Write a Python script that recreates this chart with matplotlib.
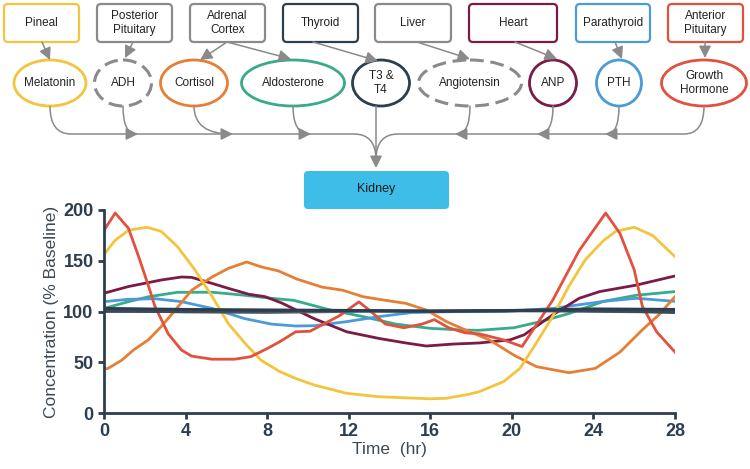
import matplotlib
matplotlib.use("Agg")
import matplotlib.pyplot as plt
from matplotlib.patches import FancyBboxPatch, Ellipse, FancyArrowPatch, PathPatch
from matplotlib.path import Path

plt.rcParams['font.family'] = ['Liberation Sans', 'DejaVu Sans']

# ---- hormone profiles (% of baseline) ----
gh_t = [0, 0.55, 1.2, 1.7, 2.2, 2.5, 3.15, 3.8, 4.3, 5.3, 6.4, 7.2, 8.05, 8.6, 9.4, 10.1,
        11.56, 12.5, 13.0, 13.8, 14.7, 15.6, 16.2, 16.9, 17.7, 18.4, 19.6, 20.5, 22.0,
        23.3, 24.6, 25.3, 26.0, 26.4, 27.1, 28]
gh_v = [180, 197, 182, 154, 124, 105, 78, 62, 56, 53, 53, 55.5, 64, 70, 80, 80.5,
        96, 109.5, 101.5, 87.6, 84, 87.6, 92, 84, 79, 78, 72, 65.5, 111,
        160, 197, 177, 141, 105, 80, 60]

mel_t = [0, 0.54, 1.2, 2.1, 2.8, 3.6, 4.46, 5.3, 6.1, 6.9, 7.7, 8.6, 9.4, 10.3, 11.9, 13.5,
         16.0, 16.8, 17.9, 18.4, 19.6, 20.4, 21.2, 22.0, 22.8, 23.6, 24.5, 25.1, 26.0, 26.9, 28]
mel_v = [156, 170, 180, 183, 179, 164, 141, 115, 88, 69, 52, 41, 34, 27.6, 19.4, 16,
         14, 14.5, 18.5, 21, 31, 44, 69, 95, 125, 151, 170, 179, 183, 175, 154]

cort_t = [0, 0.2, 0.87, 1.44, 2.17, 2.8, 3.5, 4.3, 5.3, 6.1, 7.0, 7.7, 8.55, 9.45, 10.7, 11.7,
          12.7, 13.8, 14.8, 15.8, 16.8, 17.7, 18.9, 20.1, 21.2, 22.8, 24.1, 25.3, 26.4, 27.2, 28]
cort_v = [43, 44, 52, 62, 72, 85, 101.5, 121, 134, 142.5, 148.8, 144, 140, 132, 124, 121,
          114.6, 111, 108, 101.5, 90, 82, 72, 57, 45.7, 39.7, 44, 60, 82, 96.6, 114.6]

anp_t = [0, 1.2, 2.8, 3.8, 4.3, 5.3, 6.1, 7.1, 7.9, 8.7, 10.3, 11.9, 13.5, 14.8, 15.8,
         17.1, 18.4, 19.9, 20.6, 22.0, 23.3, 24.3, 26.1, 28]
anp_v = [118, 124.6, 131, 134, 133.6, 127.7, 122.8, 117, 114.6, 108.5, 93, 80, 73.4, 69, 66,
         67.9, 69, 72, 77, 96.6, 113, 119.6, 126, 135]

ald_t = [0, 1.2, 2.2, 3.6, 5.3, 6.9, 8.2, 9.3, 11.1, 12.7, 14.3, 16.0, 17.6, 18.4, 20.1,
         21.4, 22.8, 24.5, 26.1, 28]
ald_v = [103, 109.7, 114.6, 118.9, 119, 116, 113, 111, 101.5, 95, 87.6, 83.4, 81.7, 81.5, 84,
         90, 98, 110, 116, 119.6]

pth_t = [0, 1.2, 2.5, 3.8, 5.3, 6.9, 8.2, 9.4, 10.3, 11.9, 13.5, 15.1, 17.0, 19.6, 22.0,
         24.5, 26.1, 28]
pth_v = [109.7, 112, 112.6, 109.7, 103, 93, 87.6, 85.7, 86, 90, 95, 99, 99.8, 100, 103,
         110, 113, 110]

flat_t = [0, 4, 8, 12, 16, 20, 24, 28]
t3_v = [103, 102, 101.5, 101, 100.5, 101, 102.5, 102]
adh_v = [100, 100, 100.5, 101, 100, 100.5, 101, 99]
angio_v = [101, 99.5, 99, 100, 100.5, 101, 100, 99.5]

x_ticks = [0, 4, 8, 12, 16, 20, 24, 28]
y_ticks = [0, 50, 100, 150, 200]

# ---- diagram: glands -> hormones -> kidney (pixel layout) ----
glands = ["Pineal", "Posterior\nPituitary", "Adrenal\nCortex", "Thyroid", "Liver",
          "Heart", "Parathyroid", "Anterior\nPituitary"]
gland_x = [(4, 79), (97, 172), (190, 265), (283, 358), (375, 451), (469, 557), (576, 650), (668, 743)]
gland_col = ['#f2c53d', '#8a8a8a', '#8a8a8a', '#2c3e50', '#8a8a8a', '#7b1b47', '#4a9bd6', '#e2513d']

hormones = ["Melatonin", "ADH", "Cortisol", "Aldosterone", "T3 &\nT4", "Angiotensin",
            "ANP", "PTH", "Growth\nHormone"]
horm_cx = [50, 123, 194, 293, 381, 470, 553, 619, 704]
horm_w = [72, 57, 67, 103, 57, 103, 47, 45, 85]
horm_col = ['#f2c53d', '#8a8a8a', '#e67e35', '#3aaa8c', '#2c3e50', '#8a8a8a', '#7b1b47', '#4a9bd6', '#e2513d']
horm_dash = [False, True, False, False, False, True, False, False, False]

# gland -> hormone arrows (start x at box bottom, end point at ellipse top)
links = [(42, 50, 60), (133, 125, 58), (227, 200, 60), (227, 291, 59), (313, 378, 61),
         (417, 470, 59), (515, 557, 59), (615, 622, 59), (705, 705, 58)]

fig = plt.figure(figsize=(7.5, 4.69), dpi=100)
dg = fig.add_axes([0, 0, 1, 1])
dg.set_xlim(0, 750)
dg.set_ylim(469, 0)
dg.axis('off')

gray = '#8a8a8a'
for name, (x0, x1), c in zip(glands, gland_x, gland_col):
    dg.add_patch(FancyBboxPatch((x0 + 4, 8), x1 - x0 - 8, 30, boxstyle="round,pad=4",
                                fc='white', ec=c, lw=1.6))
    dg.text((x0 + x1) / 2, 23, name, ha='center', va='center', fontsize=8.5, color='#222222',
            linespacing=1.3)

ey, eh = 83, 46
for name, cx, w, c, d in zip(hormones, horm_cx, horm_w, horm_col, horm_dash):
    e = Ellipse((cx, ey), w, eh, fc='white', ec=c, lw=2.0 if not d else 2.2)
    if d:
        e.set_linestyle((0, (4.5, 2.2)))
    dg.add_patch(e)
    dg.text(cx, ey, name, ha='center', va='center', fontsize=8.5, color='#222222', linespacing=1.3)

arr = dict(arrowstyle='-|>,head_length=0.6,head_width=0.3', mutation_scale=12,
           color=gray, lw=1.1, shrinkA=0, shrinkB=0)
for xs, xe, ye in links:
    dg.add_patch(FancyArrowPatch((xs, 42), (xe, ye), **arr))

# collecting trunk
trunk_y = 134
left = Path([(50, 106), (50, trunk_y), (71, trunk_y), (354, trunk_y), (376, trunk_y), (376, 160)],
            [Path.MOVETO, Path.CURVE3, Path.CURVE3, Path.LINETO, Path.CURVE3, Path.CURVE3])
right = Path([(704, 106), (704, trunk_y), (684, trunk_y), (398, trunk_y), (376, trunk_y), (376, 160)],
             [Path.MOVETO, Path.CURVE3, Path.CURVE3, Path.LINETO, Path.CURVE3, Path.CURVE3])
for p in (left, right):
    dg.add_patch(PathPatch(p, fc='none', ec=gray, lw=1.1))

branches = [(123, 138), (194, 233), (293, 311), (470, 455), (553, 537), (619, 605)]
for xs, xe in branches:
    dg.add_patch(FancyArrowPatch((xs, 106), (xe, trunk_y),
                                 connectionstyle="angle3,angleA=90,angleB=0", **arr))
dg.add_patch(FancyArrowPatch((376, 106), (376, 168), **arr))

dg.add_patch(FancyBboxPatch((308, 175), 137, 30, boxstyle="round,pad=4", fc='#3dbde8', ec='none'))
dg.text(376, 189, "Kidney", ha='center', va='center', fontsize=9, color='#1a1a1a')

# ---- line chart ----
ax = fig.add_axes([104 / 750, 1 - 413 / 469, 571 / 750, 203 / 469])
ax.set_facecolor('none')
ax.plot(ald_t, ald_v, color='#3aaa8c', lw=2)
ax.plot(pth_t, pth_v, color='#4a9bd6', lw=2)
ax.plot(anp_t, anp_v, color='#7b1b47', lw=2)
ax.plot(cort_t, cort_v, color='#e67e35', lw=2)
ax.plot(mel_t, mel_v, color='#f2c53d', lw=2)
ax.plot(gh_t, gh_v, color='#e2513d', lw=2)
ax.plot(flat_t, angio_v, color='#55606a', lw=2)
ax.plot(flat_t, adh_v, color='#3b4a57', lw=2)
ax.plot(flat_t, t3_v, color='#2c3e50', lw=2.2)

ax.set_xlim(0, 28)
ax.set_ylim(0, 200)
ax.set_xticks(x_ticks)
ax.set_yticks(y_ticks)
for s in ['top', 'right']:
    ax.spines[s].set_visible(False)
for s in ['left', 'bottom']:
    ax.spines[s].set_color('#2c3e50')
    ax.spines[s].set_linewidth(2)
ax.tick_params(colors='#2c3e50', width=2, length=4, labelsize=13)
for lb in ax.get_xticklabels() + ax.get_yticklabels():
    lb.set_fontweight('bold')
ax.set_xlabel("Time  (hr)", fontsize=12.5, color='#3d4a55', labelpad=1)
ax.set_ylabel("Concentration (% Baseline)", fontsize=12.5, color='#3d4a55', labelpad=3)

fig.savefig("out.png", dpi=100)
